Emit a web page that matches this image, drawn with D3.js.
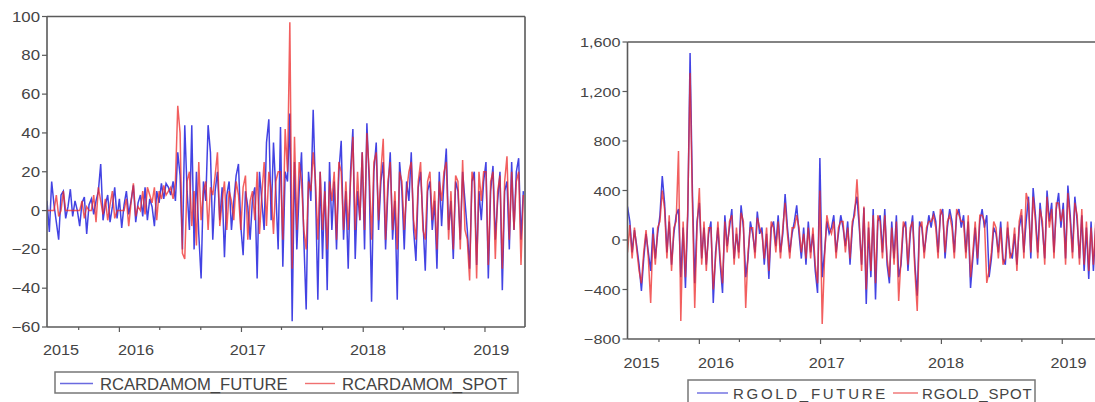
<!DOCTYPE html>
<html><head><meta charset="utf-8">
<script src="https://cdn.jsdelivr.net/npm/d3@7"></script>
<style>body{margin:0;background:#fff}svg{display:block}</style>
</head><body>
<svg id="c" width="1095" height="402"></svg>
<script>
// ---- DATA (weekly returns) ----
const startDate = "2015-05-29";
const endDate = "2019-05-01";
const cardFuture = [
5,-11,15,3,-6,-15,8,10,-4,2,
11,-3,5,0,-8,4,7,-12,3,6,
-2,5,10,24,-5,3,8,-6,2,12,
-4,6,-9,3,10,-2,5,13,-6,4,
8,-3,12,-5,6,2,-8,10,4,14,
6,14,12,8,15,5,30,18,-20,44,
10,-10,44,-20,20,-12,-35,15,5,44,
30,-15,10,20,-5,12,-24,8,15,-10,
5,18,24,-8,-23,10,2,-15,6,12,
-35,20,5,-10,35,47,-5,35,10,-20,
43,-29,20,15,50,-57,25,-20,10,30,
-15,-51,20,5,52,10,-46,20,-25,15,
-41,25,-10,15,-20,20,36,-15,10,-30,
20,42,-25,10,-5,30,-20,45,15,-47,
20,35,-10,15,25,-20,10,30,-15,5,
-46,25,10,-20,15,5,30,-10,-26,12,
20,-5,-31,10,15,-10,5,-30,20,-8,
15,32,-10,5,-25,15,10,-15,20,5,
-10,-30,15,20,-28,10,-5,15,25,-35,
10,23,-15,5,20,-41,10,15,-20,25,
-10,20,27,-15,10];
const cardSpot = [
0,0,0,0,8,-3,0,10,0,0,
0,0,0,0,0,5,-4,2,0,0,
8,-6,12,5,-2,6,-5,3,10,-4,
0,0,0,0,6,-8,4,14,-3,2,
0,10,-2,12,8,4,12,-5,10,6,
13,8,10,12,6,15,54,40,-22,-25,
15,20,-8,10,-18,25,-5,10,15,-10,
12,8,18,30,-8,5,15,-10,10,5,
-5,15,8,-10,12,18,-15,5,10,-5,
20,-12,8,25,-8,20,10,-12,15,20,
20,-15,42,20,97,-30,38,-10,25,15,
-10,-20,15,10,30,15,-15,20,-10,10,
-20,15,5,20,-15,25,20,-10,15,-10,
15,38,-10,20,-5,30,-10,40,20,-15,
25,30,-5,20,37,-15,15,25,-10,10,
-20,20,15,-10,10,20,25,-5,-15,15,
25,-10,-15,15,20,-5,10,-20,15,5,
20,25,-15,10,-20,18,15,-20,26,-10,
-15,-36,20,15,-35,20,5,20,20,-28,
15,20,-25,10,18,-30,15,28,-15,20,
-10,15,20,-28,8];
const goldFuture = [
270,150,-100,80,-50,-200,-412,-150,50,-100,
-250,100,-150,50,200,517,300,-100,150,-200,
50,200,250,-300,100,-388,200,1511,400,-350,
150,300,-150,100,-200,50,150,-509,-100,100,
-200,-428,200,-50,100,250,-150,50,-100,280,
100,-300,-150,150,50,-100,230,50,100,-200,
50,-315,100,150,-50,200,-100,50,372,100,
-100,50,150,280,50,-150,100,-200,150,-100,
50,-250,-428,663,-300,-100,150,50,100,200,
-100,50,200,100,-50,150,-200,100,250,350,
100,-200,260,-517,100,-300,250,-480,150,200,
-100,250,-200,-350,150,-150,200,-300,-200,100,
150,-250,50,200,-200,-450,150,100,-100,50,
200,100,234,150,-100,200,250,-150,100,250,
150,-100,200,250,100,200,-100,150,-388,-150,
100,-200,150,250,100,200,-300,-150,100,50,
-100,150,-150,-200,100,-100,-150,50,-200,100,
200,-100,150,350,-150,420,200,-100,300,100,
-150,400,150,300,-100,250,380,100,300,-150,
440,200,-100,350,150,-150,200,-250,100,-315,
150,-250,100,-300,50];
const goldSpot = [
-100,120,-150,100,-80,-250,-350,-100,80,-150,
-509,50,-200,100,150,400,250,-150,200,-250,
100,150,720,-654,150,-300,250,1350,300,-549,
100,420,-200,150,-250,100,100,-400,-150,150,
-150,-350,150,-100,150,200,-200,100,-150,220,
150,-549,-100,100,100,-150,180,100,50,-150,
100,-250,150,100,-100,150,-150,100,300,50,
-150,100,100,200,100,-100,50,-150,100,-150,
100,-200,-350,400,-679,-150,200,100,50,150,
-150,100,150,150,-100,100,-150,150,200,490,
150,-250,270,-400,150,-250,200,-350,200,150,
-150,200,-150,-300,100,-200,150,-493,-150,150,
100,-200,100,150,-250,-574,100,150,-150,100,
150,150,200,100,-150,250,200,-100,150,200,
100,-150,250,200,150,150,-150,200,-300,-100,
150,-150,200,200,150,-347,-250,-100,150,100,
-150,100,-200,-150,150,-150,-100,100,-250,150,
250,-150,380,300,-100,350,150,-150,250,150,
-200,350,100,250,-150,300,300,150,250,-200,
380,150,-150,300,200,-200,250,-200,150,-250,
100,-200,150,-250,100];
const cardTicks = [100,80,60,40,20,0,-20,-40,-60];
const goldTicks = [1600,1200,800,400,0,-400,-800];
const yearLabels = ["2015","2016","2017","2018","2019"];
const yearLabelDates = ["2015-07-10","2016-02-20","2017-01-20","2018-01-15","2019-01-20"];
const legendCard = ["RCARDAMOM_FUTURE","RCARDAMOM_SPOT"];
const legendGold = ["RGOLD_FUTURE","RGOLD_SPOT"];

// ---- DRAW ----
const svg = d3.select("#c");
const parse = d3.timeParse("%Y-%m-%d");
const t0 = parse(startDate), t1 = parse(endDate);
const dates = d3.range(cardFuture.length).map(i => d3.timeDay.offset(t0, 7*i));
const BLUE = "#2f2fe0", RED = "#ee2a2a", AX = "#5a5a5a", TXT = "#444";
const FONT = "'Liberation Sans', Arial, sans-serif";

function stext(g, x, y, s, size, sx, anchor, ls) {
  g.append("text").attr("transform", `translate(${x},${y}) scale(${sx},1)`)
    .attr("text-anchor", anchor).attr("font-family", FONT).attr("font-size", size)
    .attr("fill", TXT).attr("letter-spacing", ls || 0).text(s);
}

function panel(o) {
  const g = svg.append("g");
  const x = d3.scaleTime().domain([t0, t1]).range([o.x0, o.x1]);
  const y = d3.scaleLinear().domain(o.ydom).range([o.y1, o.y0]);
  const clipId = "clip" + o.id;
  g.append("clipPath").attr("id", clipId).append("rect")
    .attr("x", o.x0).attr("y", o.y0).attr("width", o.x1 - o.x0).attr("height", o.y1 - o.y0);
  const line = d3.line().x((d, i) => x(dates[i])).y(d => y(d));
  const lg = g.append("g").attr("clip-path", `url(#${clipId})`);
  lg.append("path").datum(o.fut).attr("d", line).attr("fill", "none")
    .attr("stroke", BLUE).attr("stroke-width", 1.5).attr("stroke-opacity", 0.9);
  lg.append("path").datum(o.spot).attr("d", line).attr("fill", "none")
    .attr("stroke", RED).attr("stroke-width", 1.5).attr("stroke-opacity", 0.75);
  // frame
  const f = g.append("g").attr("stroke", AX).attr("stroke-width", 1.6).attr("fill", "none");
  f.append("line").attr("x1", o.x0).attr("x2", o.x1).attr("y1", o.y0).attr("y2", o.y0);
  f.append("line").attr("x1", o.x0).attr("x2", o.x1).attr("y1", o.y1).attr("y2", o.y1);
  f.append("line").attr("x1", o.x0).attr("x2", o.x0).attr("y1", o.y0).attr("y2", o.y1);
  f.append("line").attr("x1", o.x1).attr("x2", o.x1).attr("y1", o.y0).attr("y2", o.y1);
  // y ticks
  o.yticks.forEach(v => {
    g.append("line").attr("x1", o.x0 - 5).attr("x2", o.x0).attr("y1", y(v)).attr("y2", y(v))
      .attr("stroke", AX).attr("stroke-width", 1.2);
    stext(g, o.x0 - 7, y(v) + 5, o.yfmt(v), o.ysize, 1.2, "end");
  });
  // x ticks every 4 months
  d3.timeMonth.every(4).range(t0, t1).forEach(d => {
    const major = d.getMonth() === 0;
    g.append("line").attr("x1", x(d)).attr("x2", x(d)).attr("y1", o.y1).attr("y2", o.y1 + (major ? 5 : 3))
      .attr("stroke", AX).attr("stroke-width", 1.2);
  });
  yearLabels.forEach((s, i) => {
    stext(g, x(parse(yearLabelDates[i])), o.y1 + o.xlab, s, 15, 1.08, "middle");
  });
  // legend
  const L = o.leg;
  g.append("rect").attr("x", L.x0).attr("y", L.y0).attr("width", L.x1 - L.x0).attr("height", L.h)
    .attr("fill", "#fff").attr("stroke", "#777").attr("stroke-width", 1.5);
  const ly = L.y0 + L.h / 2 + 1;
  g.append("line").attr("x1", L.b0).attr("x2", L.b1).attr("y1", ly).attr("y2", ly)
    .attr("stroke", "#6a6ae0").attr("stroke-width", 1.4);
  g.append("line").attr("x1", L.r0).attr("x2", L.r1).attr("y1", ly).attr("y2", ly)
    .attr("stroke", "#f07070").attr("stroke-width", 1.4);
  stext(g, L.bt, ly + 6, o.names[0], L.size, L.sx, "start", L.ls[0]);
  stext(g, L.rt, ly + 6, o.names[1], L.size, L.sx, "start", L.ls[1]);
}

panel({id: "a", x0: 47, x1: 525, y0: 16.5, y1: 327, ydom: [-60, 100],
  fut: cardFuture, spot: cardSpot, yticks: cardTicks, yfmt: d3.format("d"), ysize: 14,
  xlab: 28, names: legendCard,
  leg: {x0: 55, x1: 518, y0: 372, h: 21, b0: 60, b1: 93, bt: 100, r0: 305, r1: 335, rt: 342, size: 16, sx: 1.04, ls: [0, 0]}});
panel({id: "b", x0: 627.5, x1: 1102, y0: 42, y1: 339, ydom: [-800, 1600],
  fut: goldFuture, spot: goldSpot, yticks: goldTicks, yfmt: d3.format(","), ysize: 13.5,
  xlab: 29, names: legendGold,
  leg: {x0: 688, x1: 1035, y0: 380, h: 24, b0: 697, b1: 728, bt: 733, r0: 893, r1: 918, rt: 922, size: 15, sx: 1.0, ls: [2.7, 0.8]}});
</script>
</body></html>
